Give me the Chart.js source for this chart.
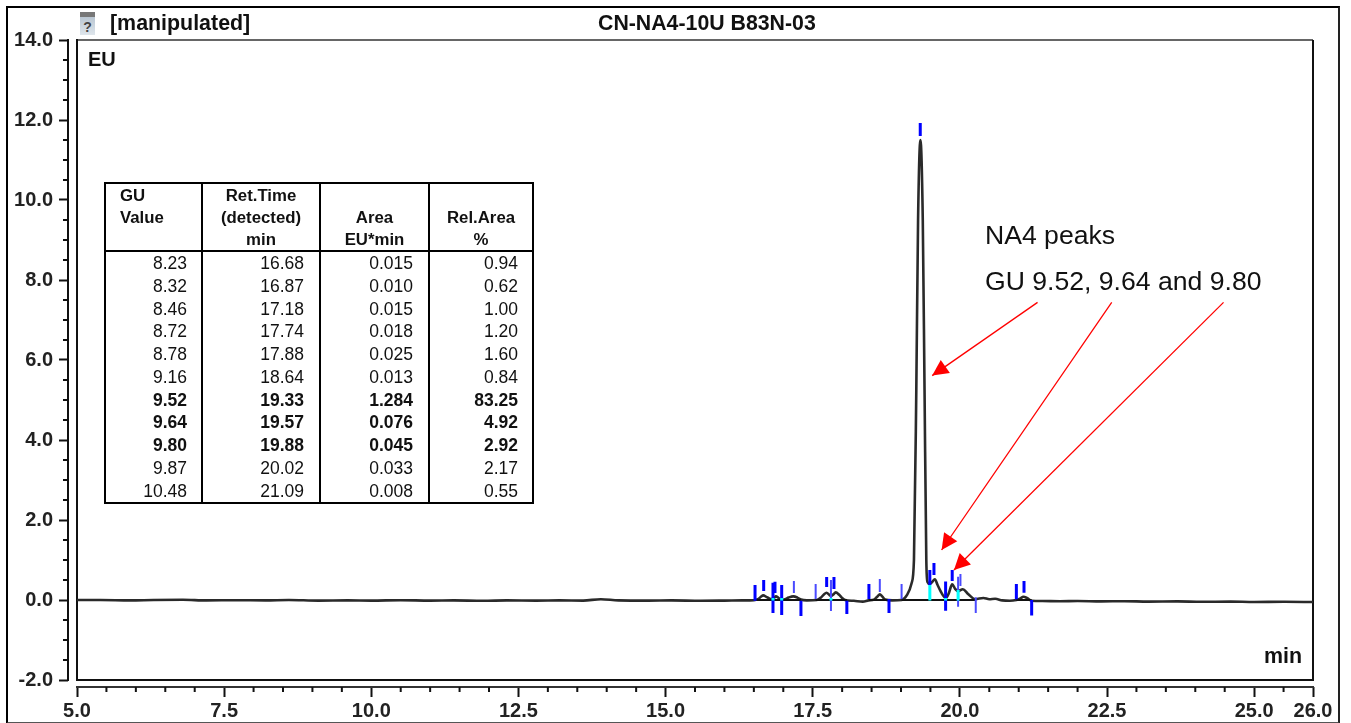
<!DOCTYPE html>
<html>
<head>
<meta charset="utf-8">
<script src="https://cdn.jsdelivr.net/npm/chart.js@4/dist/chart.umd.min.js"></script>
<style>
html,body{margin:0;padding:0;background:#fff;width:1351px;height:723px;overflow:hidden;font-family:"Liberation Sans",Arial,sans-serif;color:#111}
#frame{position:absolute;left:6px;top:6px;width:1330px;height:714px;border:2px solid #000;border-bottom-color:#555;border-right-color:#222;box-sizing:content-box}
canvas{position:absolute;left:0;top:0}
.lbl{position:absolute;white-space:nowrap;line-height:1}
#icon{position:absolute;left:80px;top:12px;width:15px;height:23px;background:linear-gradient(#777 0,#777 5px,#b9c6d2 5px,#dfe6ec 100%);color:#444;font:bold 14px "Liberation Sans";text-align:center;line-height:30px;overflow:hidden}
#tbl{position:absolute;left:104px;top:182px;width:430px;border-collapse:collapse;table-layout:fixed;font-size:17.5px;color:#111}
#tbl th,#tbl td{padding:0}
#tbl thead th{border:2px solid #000;font-weight:bold;font-size:16.8px;line-height:22px;vertical-align:bottom;text-align:center;height:66px}
#tbl thead th div{position:relative;top:1px}
#tbl thead th:first-child{text-align:left;vertical-align:top;padding-left:14px}
#tbl tbody td{text-align:right;vertical-align:top;border:2px solid #000;border-top:none}
#tbl tbody td div{height:22.75px;line-height:22px}
</style>
</head>
<body>
<div id="frame"></div>
<canvas id="c" width="1351" height="723"></canvas>
<div id="icon">?</div>
<div class="lbl" id="t1" style="left:110px;top:13px;font-size:21.4px;font-weight:bold">[manipulated]</div>
<div class="lbl" id="t2" style="left:598px;top:13px;font-size:21.3px;font-weight:bold">CN-NA4-10U B83N-03</div>
<div class="lbl" style="left:88px;top:49px;font-size:20px;font-weight:bold">EU</div>
<div class="lbl" style="left:1264px;top:646px;font-size:21.4px;font-weight:bold">min</div>
<div class="lbl" style="left:985px;top:222px;font-size:26.6px">NA4 peaks</div>
<div class="lbl" style="left:985px;top:268px;font-size:26.6px">GU 9.52, 9.64 and 9.80</div>
<table id="tbl"><colgroup><col style="width:97px"><col style="width:118px"><col style="width:109px"><col style="width:104px"></colgroup><thead></thead><tbody></tbody></table>
<script>
// ---- chromatogram trace (min, EU)
const traceX = [5,5.4,5.9,6.3,6.8,7.2,7.7,8.2,8.6,9.1,9.6,10,10.5,11,11.4,11.9,12.3,12.8,13.2,13.6,13.9,14.2,14.7,15.1,15.6,16,16.3,16.5,
 16.57,16.62,16.66,16.71,16.76,16.8,16.84,16.875,16.92,16.97,17.03,17.09,17.17,17.24,17.3,17.4,17.57,
 17.64,17.69,17.736,17.78,17.81,17.85,17.89,17.95,18,18.05,18.2,18.35,18.45,18.54,18.6,18.64,18.68,18.73,18.85,19.01,
 19.1,19.18,19.22,19.26,19.29,19.33,19.37,19.4,19.43,19.45,19.49,19.53,19.575,19.62,19.68,19.76,19.81,19.87,19.92,19.97,20.05,20.14,20.26,
 20.4,20.5,20.6,20.72,20.85,20.96,21.02,21.08,21.14,21.22,21.4,21.7,22,22.4,22.8,23.2,23.7,24.1,24.6,25,25.5,26];
const traceY = [0,0,-.01,0,.005,-.01,-.005,-.01,0,-.015,-.01,-.015,-.005,-.015,-.01,-.02,-.01,-.015,-.01,-.015,.02,-.01,-.015,-.01,-.02,-.015,-.01,-.005,
 .02,.08,.115,.08,.04,.025,.05,.09,.05,.005,.02,.06,.09,.06,.01,-.01,0,
 .06,.14,.18,.13,.1,.14,.19,.13,.05,0,-.02,-.04,-.01,.01,.09,.14,.09,.01,-.01,0,
 .12,.42,1,5.25,9.5,11.5,9.5,5.25,1,.45,.4,.45,.52,.38,.2,.05,.16,.39,.28,.22,.27,.15,.02,
 .05,.02,.03,-.01,-.02,0,.03,.08,.05,-.02,-.025,-.03,-.025,-.035,-.03,-.04,-.035,-.045,-.04,-.05,-.045,-.05];
// ---- integration baseline segments
const baseStart = [16.52,17.55,18.455,19.01,20.96];
const baseEnd   = [17.30,18.08,18.796,20.27,21.22];
// ---- peak delimiter markers: thick
const thickX    = [16.52,16.667,16.825,16.859,16.973,17.30,17.737,17.861,18.08,18.455,18.796,19.327,19.49,19.56,19.758,19.87,20.96,21.09,21.22];
const thickHigh = [.375,.5,.43,.455,.375,-.02,.575,.575,-.02,.4,.025,11.925,.75,.925,.46,.75,.4,.475,0];
const thickLow  = [-.02,.225,-.325,.175,-.375,-.4,.325,.275,-.35,.025,-.325,11.6,.375,.625,-.27,.475,.02,.18,-.39];
// ---- peak delimiter markers: thin
const thinX    = [17.18,17.55,17.81,18.64,19.01,19.97,20.01,20.27];
const thinHigh = [.475,.4,.5,.525,.4,.58,.65,.07];
const thinLow  = [.175,.025,-.275,.2,.025,-.17,.35,-.325];
// ---- cyan valley drops
const cyanX    = [16.825,16.973,17.81,19.49,19.758,19.97];
const cyanHigh = [.05,.05,.05,.375,.05,.25];
// ---- annotation arrows (tail -> tip, in axis units)
const arrowTailX = [21.32,22.58,24.48];
const arrowTailY = [7.44,7.44,7.44];
const arrowTipX  = [19.53,19.69,19.90];
const arrowTipY  = [5.61,1.25,.75];
// ---- axes
const xMajor = [5,7.5,10,12.5,15,17.5,20,22.5,25,26];
const yMajor = [-2,0,2,4,6,8,10,12,14];
const xMinor = [5.5,6,6.5,7,8,8.5,9,9.5,10.5,11,11.5,12,13,13.5,14,14.5,15.5,16,16.5,17,18,18.5,19,19.5,20.5,21,21.5,22,23,23.5,24,24.5,25.5];
const yMinor = [-1.5,-1,-.5,.5,1,1.5,2.5,3,3.5,4.5,5,5.5,6.5,7,7.5,8.5,9,9.5,10.5,11,11.5,12.5,13,13.5];
// ---- table
const tableHead = [["GU","Value"],["Ret.Time","(detected)","min"],["Area","EU*min"],["Rel.Area","%"]];
const guValue = ["8.23","8.32","8.46","8.72","8.78","9.16","9.52","9.64","9.80","9.87","10.48"];
const retTime = ["16.68","16.87","17.18","17.74","17.88","18.64","19.33","19.57","19.88","20.02","21.09"];
const areaVal = ["0.015","0.010","0.015","0.018","0.025","0.013","1.284","0.076","0.045","0.033","0.008"];
const relArea = ["0.94","0.62","1.00","1.20","1.60","0.84","83.25","4.92","2.92","2.17","0.55"];
const boldRows = ["9.52","9.64","9.80"];

// build table: one body row whose cells stack the values, so the row pitch stays fractional
const tbl = document.getElementById('tbl');
tbl.tHead.innerHTML = '<tr>' + tableHead.map(h => '<th><div>' + h.join('<br>') + '</div></th>').join('') + '</tr>';
const pads = [14,15,15,14];
tbl.tBodies[0].innerHTML = '<tr>' + [guValue,retTime,areaVal,relArea].map((col,j) =>
  '<td style="padding-right:' + pads[j] + 'px">' + col.map((v,i) =>
    '<div style="' + (boldRows.includes(guValue[i]) ? 'font-weight:bold' : '') + '">' + v + '</div>').join('') + '</td>').join('') + '</tr>';

function seg(x1,y1,x2,y2,color,width,order){
  return {data:[{x:x1,y:y1},{x:x2,y:y2}],borderColor:color,borderWidth:width,pointRadius:0,order:order,tension:0,clip:false};
}
const datasets = [];
datasets.push({data:traceX.map((x,i)=>({x,y:traceY[i]})),borderColor:'#2a2a2a',borderWidth:2.6,pointRadius:0,cubicInterpolationMode:'monotone',order:5});
baseStart.forEach((s,i)=>datasets.push(seg(s,0,baseEnd[i],0,'#111',2,4)));
thickX.forEach((x,i)=>datasets.push(seg(x,thickHigh[i],x,thickLow[i],'#0000ff',3,3)));
thinX.forEach((x,i)=>datasets.push(seg(x,thinHigh[i],x,thinLow[i],'#4a4aff',2,3)));
cyanX.forEach((x,i)=>datasets.push(seg(x,cyanHigh[i],x,-.01,'#00ffff',3,2)));
arrowTipX.forEach((x,i)=>datasets.push(seg(arrowTailX[i],arrowTailY[i],x,arrowTipY[i],'#ff0000',1.3,1)));

const framePlugin = {
  id:'framePlugin',
  beforeDatasetsDraw(ch){
    const c=ch.ctx,X=ch.scales.x,Y=ch.scales.y;
    const xl=X.getPixelForValue(5),xr=X.getPixelForValue(26),yt=Y.getPixelForValue(14),yb=Y.getPixelForValue(-2);
    const ax=X.left+0, ay=Y.bottom;
    c.save();
    c.lineCap='butt';
    c.strokeStyle='#666';c.lineWidth=2;
    c.beginPath();c.moveTo(xl,yt);c.lineTo(xr,yt);c.stroke();
    c.strokeStyle='#111';
    c.beginPath();c.moveTo(xr,yt);c.lineTo(xr,yb);c.lineTo(xl,yb);c.lineTo(xl,yt-1);c.stroke();
    c.strokeStyle='#111';c.lineWidth=2;
    c.beginPath();c.moveTo(ax,yt-1);c.lineTo(ax,yb+1);c.stroke();
    c.strokeStyle='#333';
    c.beginPath();c.moveTo(xl-1,ay);c.lineTo(xr+1,ay);c.stroke();
    c.strokeStyle='#111';
    c.beginPath();
    yMinor.forEach(v=>{const p=Y.getPixelForValue(v);c.moveTo(ax-5,p);c.lineTo(ax,p);});
    xMinor.forEach(v=>{const p=X.getPixelForValue(v);c.moveTo(p,ay);c.lineTo(p,ay+5);});
    c.stroke();
    c.restore();
  },
  afterDatasetsDraw(ch){
    const c=ch.ctx,X=ch.scales.x,Y=ch.scales.y;
    c.save();c.fillStyle='#ff0000';
    arrowTipX.forEach((tx,i)=>{
      const x2=X.getPixelForValue(tx),y2=Y.getPixelForValue(arrowTipY[i]);
      const x1=X.getPixelForValue(arrowTailX[i]),y1=Y.getPixelForValue(arrowTailY[i]);
      const a=Math.atan2(y2-y1,x2-x1),L=16,W=8;
      const bx=x2-L*Math.cos(a),by=y2-L*Math.sin(a);
      c.beginPath();c.moveTo(x2,y2);
      c.lineTo(bx-W*Math.sin(a),by+W*Math.cos(a));
      c.lineTo(bx+W*Math.sin(a),by-W*Math.cos(a));
      c.closePath();c.fill();
    });
    c.restore();
  }
};

const tickFont = {family:'"Liberation Sans"',size:20,weight:'bold'};
new Chart(document.getElementById('c'),{
  type:'line',
  data:{datasets},
  plugins:[framePlugin],
  options:{
    responsive:false,animation:false,devicePixelRatio:1,
    layout:{padding:{top:40,right:38,left:0,bottom:0}},
    plugins:{legend:{display:false},tooltip:{enabled:false},title:{display:false}},
    scales:{
      x:{type:'linear',min:5-9/58.857,max:26,
        afterBuildTicks(s){s.ticks=xMajor.map(v=>({value:v}));},
        afterFit(s){s.height=36;},
        border:{display:false},
        grid:{drawOnChartArea:false,drawTicks:true,tickLength:10,tickColor:'#111',tickWidth:2},
        ticks:{color:'#222',font:tickFont,padding:2,autoSkip:false,maxRotation:0,minRotation:0,callback:v=>v.toFixed(1)}},
      y:{type:'linear',min:-2.175,max:14,
        afterBuildTicks(s){s.ticks=yMajor.map(v=>({value:v}));},
        afterFit(s){s.width=68;},
        border:{display:false},
        grid:{drawOnChartArea:false,drawTicks:true,tickLength:9,tickColor:'#111',tickWidth:2},
        ticks:{color:'#222',font:tickFont,padding:6,autoSkip:false,callback:v=>v.toFixed(1)}}
    }
  }
});
</script>
</body>
</html>
